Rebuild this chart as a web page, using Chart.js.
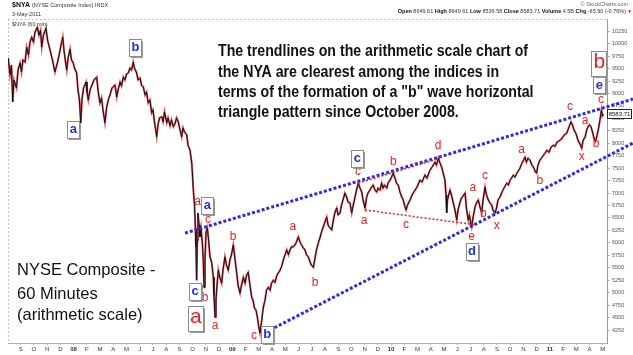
<!DOCTYPE html>
<html><head><meta charset="utf-8">
<script src="https://cdn.jsdelivr.net/npm/chart.js@4.4.1/dist/chart.umd.min.js"></script>
<style>html,body{margin:0;padding:0;background:#fff;}canvas{display:block;}</style>
</head><body>
<canvas id="c" width="633" height="355"></canvas>
<script>
// ---------- data ----------
const monthLabels = ['S','O','N','D','08','F','M','A','M','J','J','A','S','O','N','D','09','F','M','A','M','J','J','A','S','O','N','D','10','F','M','A','M','J','J','A','S','O','N','D','11','F','M','A','M'];
const yearLabels = ['08','09','10','11'];
const yTickValues = [4250,4500,4750,5000,5250,5500,5750,6000,6250,6500,6750,7000,7250,7500,7750,8000,8250,8500,8750,9000,9250,9500,9750,10000,10250];

// time in months since 1 Sep 2007, NYA value
const hourMonth = [
-0.94,-0.81,-0.70,-0.60,-0.51,-0.32,-0.20,-0.05,0.06,0.17,
0.33,0.45,0.59,0.70,0.83,0.97,1.08,1.26,1.38,1.50,
1.59,1.72,1.91,2.03,2.22,2.37,2.59,2.77,2.90,3.05,
3.18,3.27,3.39,3.48,3.58,3.73,3.84,3.95,4.07,4.23,
4.33,4.44,4.54,4.63,4.75,4.94,5.01,5.11,5.24,5.39,
5.54,5.75,5.84,5.99,6.11,6.22,6.37,6.49,6.62,6.75,
6.90,7.13,7.26,7.36,7.51,7.62,7.76,7.88,8.00,8.13,
8.26,8.38,8.51,8.60,8.77,8.87,9.02,9.13,9.27,9.40,
9.51,9.64,9.77,9.90,10.00,10.11,10.28,10.38,10.49,10.66,
10.76,10.87,11.04,11.14,11.29,11.40,11.54,11.66,11.78,11.91,
12.04,12.17,12.27,12.38,12.55,12.65,12.80,12.93,12.99,13.05,
13.14,13.21,13.25,13.30,13.35,13.40,13.48,13.55,13.63,13.74,
13.80,13.86,13.93,14.01,14.11,14.20,14.31,14.44,14.56,14.61,
14.69,14.76,14.84,14.94,15.07,15.19,15.29,15.44,15.56,15.69,
15.82,15.93,16.07,16.16,16.33,16.43,16.58,16.69,16.83,16.96,
17.07,17.20,17.33,17.46,17.56,17.67,17.79,17.90,18.01,18.09,
18.20,18.34,18.47,18.58,18.72,18.85,18.96,19.10,19.22,19.37,
19.60,19.75,19.90,20.11,20.24,20.36,20.47,20.61,20.73,20.85,
20.98,21.11,21.23,21.36,21.49,21.60,21.74,21.87,21.98,22.12,
22.25,22.36,22.50,22.62,22.74,22.87,23.00,23.13,23.23,23.38,
23.51,23.61,23.76,23.89,23.99,24.14,24.25,24.36,24.51,24.64,
24.74,24.89,25.02,25.14,25.27,25.42,25.52,25.65,25.78,25.88,
26.03,26.15,26.25,26.40,26.53,26.65,26.78,26.91,27.01,27.16,
27.29,27.39,27.50,27.67,27.77,27.92,28.03,28.16,28.29,28.41,
28.54,28.67,28.78,28.92,29.01,29.13,29.24,29.43,29.58,29.81,
29.96,30.18,30.33,30.56,30.71,30.94,31.09,31.32,31.43,31.57,
31.70,31.82,31.92,32.07,32.15,32.20,32.26,32.45,32.56,32.70,
32.83,32.96,33.06,33.21,33.32,33.43,33.59,33.71,33.83,33.92,
34.00,34.09,34.19,34.34,34.45,34.59,34.72,34.85,34.95,35.10,
35.21,35.35,35.48,35.60,35.70,35.85,35.97,36.08,36.23,36.38,
36.53,36.74,36.87,36.99,37.10,37.24,37.36,37.51,37.74,37.89,
38.01,38.12,38.23,38.35,38.50,38.65,38.80,38.91,39.00,39.10,
39.25,39.41,39.63,39.78,39.93,40.09,40.26,40.39,40.54,40.77,
40.92,41.07,41.27,41.37,41.48,41.60,41.71,41.82,41.98,42.13,
42.28,42.41,42.51,42.66,42.79,42.88,43.00,43.11,43.22,43.34,
43.45,43.56,43.66,43.79,43.90,43.98,44.04
];
const closeValue = [
9710,9370,9570,8830,9270,9110,9470,9610,9430,9670,
9630,9930,9770,10030,10130,10030,10230,10330,10170,10270,
9930,10170,10310,10070,9870,9710,9430,9610,9770,9970,
10130,9870,9630,9470,9710,9890,9670,9630,9510,9410,
9070,8870,8410,8870,9110,9230,9030,8870,9070,9170,
9270,9330,9070,8810,8910,8670,8410,8710,8870,8970,
9110,9170,8930,9070,9230,9150,9330,9270,9390,9410,
9510,9470,9630,9510,9410,9270,9310,9170,9130,8970,
9030,8810,8870,8610,8670,8430,8130,8370,8510,8530,
8430,8630,8410,8510,8350,8470,8330,8390,8510,8430,
8270,8130,8310,8230,8170,7960,7860,7600,7360,7060,
6760,6260,5920,5250,6060,6600,6360,6120,6300,5960,
5660,5110,5660,6220,6300,6060,5720,5600,5310,4950,
4510,4850,5150,5450,5290,5190,5450,5720,5550,5450,
5660,5760,5960,5760,5390,5150,4990,5150,5310,5190,
5350,5410,5150,4910,4850,4690,4650,4490,4290,4190,
4410,4710,4850,5050,5110,5050,5190,5250,5210,5350,
5450,5550,5700,5860,5760,5860,5920,5920,5960,6020,
6120,6020,5960,5900,5860,5760,5720,5620,5550,5510,
5700,5860,6000,6100,6220,6320,6420,6520,6360,6300,
6260,6420,6620,6700,6560,6600,6760,6860,7000,6920,
6820,6800,6600,6760,6920,7100,7200,7100,7020,6860,
6700,6920,7000,7060,7120,7160,7060,7020,7100,7060,
7200,7100,7160,7100,7200,7260,7320,7400,7300,7200,
7160,7020,6940,6860,6760,6660,6760,6860,6960,7060,
7120,7260,7220,7360,7300,7460,7520,7620,7560,7700,
7600,7520,7420,7260,6960,6600,6860,7060,6960,6800,
6660,6460,6660,6820,6900,6940,7000,6660,6460,6560,
6420,6320,6500,6720,6800,6860,6720,6600,6860,7120,
6960,6860,6800,6760,6660,6600,6700,6860,6920,7020,
7100,7200,7160,7260,7300,7360,7320,7400,7500,7600,
7660,7720,7620,7700,7660,7560,7500,7420,7400,7560,
7660,7720,7800,7860,7820,7920,7960,7940,8020,8060,
8100,8160,8200,8270,8350,8430,8370,8270,8190,8060,
7980,7900,8060,8120,8270,8330,8370,8330,8230,8100,
8040,8150,8270,8470,8670,8550,8583.71
];
const lastClose = 8583.71;

// trendlines (endpoints: month, value)
const upperTrendT = [12.42, 46.28], upperTrendV = [6197, 8888];
const lowerTrendT = [18.84, 46.28], lowerTrendV = [4250, 8005];
const redLowerT = [26.03, 34.45], redLowerV = [6660, 6360];
const redUpperT = [25.52, 31.70], redUpperV = [7200, 7700];

// wave labels: month, value, letter, kind (r = red letter, B = blue box, R = red box)
const waveT = [13.38,14.16,13.93,14.69,16.05,17.63,20.58,22.25,25.50,25.95,28.17,29.13,31.55,34.09,34.17,35.10,34.97,35.98,37.87,39.25,41.52,42.41,42.66,43.49,43.87,
               3.95,8.64,14.08,13.15,18.59,25.42,34.08,43.71, 13.20,43.71];
const waveV = [6820,6460,4890,4330,6120,4130,6320,5210,7420,6440,7630,6360,7960,6120,7100,7340,6580,6340,7880,7240,8730,7730,8450,8000,8870,
               8270,9930,6760,5030,4170,7700,5820,9170, 4480,9600];
const waveText = ['a','c','b','a','b','c','a','b','c','a','b','c','d','e','a','c','b','x','a','b','c','x','a','b','c',
                  'a','b','a','c','b','c','d','e', 'a','b'];
const waveKind = ['r','r','r','r','r','r','r','r','r','r','r','r','r','r','r','r','r','r','r','r','r','r','r','r','r',
                  'B','B','B','B','B','B','B','B', 'R','R'];

const noteLines = ['The trendlines on the arithmetic scale chart of','the NYA are clearest among the indices in','terms of the formation of a "b" wave horizontal','triangle pattern since October 2008.'];
const titleLines = ['NYSE Composite -','60 Minutes','(arithmetic scale)'];

// ---------- chart ----------
const pts = (ts, vs) => ts.map((t, i) => ({x: t, y: vs[i]}));
const priceData = pts(hourMonth, closeValue);
const FONT = '"Liberation Sans", Arial, sans-serif';

const annot = {
  id: 'annot',
  beforeDatasetsDraw(chart) {
    const {ctx, chartArea: a} = chart;
    ctx.save();
    ctx.strokeStyle = '#c9bcc9'; ctx.lineWidth = 1; ctx.setLineDash([2, 2]);
    ctx.beginPath(); ctx.moveTo(a.left, a.top + 0.5); ctx.lineTo(a.right, a.top + 0.5);
    ctx.moveTo(a.left + 0.5, a.top); ctx.lineTo(a.left + 0.5, a.bottom); ctx.stroke();
    ctx.restore();
  },
  afterDraw(chart) {
    const {ctx} = chart;
    const xs = chart.scales.x, ys = chart.scales.y;
    ctx.save();
    // wave labels
    ctx.textAlign = 'center'; ctx.textBaseline = 'middle';
    for (let i = 0; i < waveT.length; i++) {
      const px = xs.getPixelForValue(waveT[i]), py = ys.getPixelForValue(waveV[i]);
      const k = waveKind[i];
      if (k === 'r') {
        ctx.font = '12px ' + FONT; ctx.fillStyle = '#ec1c24';
        ctx.fillText(waveText[i], px, py);
      } else {
        const w = k === 'B' ? 12 : 15, h = k === 'B' ? 17 : 25;
        const x0 = Math.round(px - w / 2) + 0.5, y0 = Math.round(py - h / 2) + 0.5;
        ctx.fillStyle = '#9a9a9a'; ctx.fillRect(x0 + 1.5, y0 + 1.5, w, h);
        ctx.fillStyle = '#fff'; ctx.fillRect(x0, y0, w, h);
        ctx.strokeStyle = '#8c8c8c'; ctx.lineWidth = 1; ctx.strokeRect(x0, y0, w, h);
        if (k === 'B') { ctx.font = 'bold 13px ' + FONT; ctx.fillStyle = '#1f2fe8'; }
        else { ctx.font = '21px ' + FONT; ctx.fillStyle = '#ec1c24'; }
        ctx.fillText(waveText[i], px + 0.5, py + (k === 'B' ? 0 : -1));
      }
    }
    // last value box on the axis
    const ly = ys.getPixelForValue(lastClose);
    ctx.fillStyle = '#fff'; ctx.fillRect(607.5, Math.round(ly) - 4.5, 24, 9);
    ctx.strokeStyle = '#222'; ctx.lineWidth = 1; ctx.strokeRect(607.5, Math.round(ly) - 4.5, 24, 9);
    ctx.fillStyle = '#111'; ctx.font = '6px ' + FONT; ctx.textAlign = 'center';
    ctx.fillText(lastClose.toFixed(2), 619.5, Math.round(ly));

    // note text block (narrow bold)
    ctx.textAlign = 'left'; ctx.textBaseline = 'alphabetic';
    ctx.font = 'bold 17px "Liberation Sans Narrow", "Arial Narrow", ' + FONT;
    const w0 = ctx.measureText(noteLines[0]).width;
    const sx = 310 / w0;
    ctx.fillStyle = '#111';
    ctx.save(); ctx.translate(218, 0); ctx.scale(sx, 1);
    const nb = [56, 76.5, 97, 117];
    noteLines.forEach((l, i) => ctx.fillText(l, 0, nb[i]));
    ctx.restore();

    // chart title bottom-left
    ctx.font = '16.5px ' + FONT; ctx.fillStyle = '#111';
    const tb = [275, 299, 320];
    titleLines.forEach((l, i) => ctx.fillText(l, 17, tb[i]));

    // header
    ctx.textBaseline = 'middle';
    ctx.font = 'bold 7px ' + FONT; ctx.fillStyle = '#111';
    ctx.fillText('$NYA', 12, 5);
    const wN = ctx.measureText('$NYA ').width;
    ctx.font = '5.5px ' + FONT; ctx.fillStyle = '#333';
    ctx.fillText('(NYSE Composite Index) INDX', 12 + wN, 5);
    ctx.fillText('3-May-2011', 12, 14);
    ctx.fillText('$NYA (60 min)', 12, 24);
    ctx.textAlign = 'right'; ctx.fillStyle = '#666';
    ctx.fillText('\u00A9 StockCharts.com', 628, 4);
    const parts = [['Open ', true], ['8649.61 ', false], ['High ', true], ['8649.61 ', false], ['Low ', true], ['8539.58 ', false], ['Close ', true], ['8583.71 ', false], ['Volume ', true], ['4.5B ', false], ['Chg ', true], ['-65.90 (-0.76%)', false]];
    let xr = 626;
    for (let i = parts.length - 1; i >= 0; i--) {
      ctx.font = (parts[i][1] ? 'bold ' : '') + '5.5px ' + FONT;
      ctx.fillStyle = parts[i][1] ? '#111' : '#333';
      ctx.fillText(parts[i][0], xr, 11.5);
      xr -= ctx.measureText(parts[i][0]).width;
    }
    ctx.fillStyle = '#e0101a'; ctx.textAlign = 'left'; ctx.font = '5px ' + FONT;
    ctx.fillText('\u25BC', 627, 11.5);
    ctx.restore();
  }
};

new Chart(document.getElementById('c'), {
  type: 'line',
  data: {
    datasets: [
      {data: pts(upperTrendT, upperTrendV), borderColor: '#2a2ee0', borderWidth: 3, borderDash: [3, 2], pointRadius: 0, clip: false, order: 1},
      {data: pts(lowerTrendT, lowerTrendV), borderColor: '#2a2ee0', borderWidth: 3, borderDash: [3, 2], pointRadius: 0, clip: false, order: 1},
      {data: pts(redUpperT, redUpperV), borderColor: '#ec1c24', borderWidth: 1.5, borderDash: [2, 2], pointRadius: 0, order: 0},
      {data: pts(redLowerT, redLowerV), borderColor: '#ec1c24', borderWidth: 1.5, borderDash: [2, 2], pointRadius: 0, order: 0},
      {data: priceData, borderColor: 'rgba(225,40,50,0.8)', borderWidth: 2, pointRadius: 0, tension: 0, order: 3},
      {data: priceData, borderColor: '#111', borderWidth: 1, pointRadius: 0, tension: 0, order: 2}
    ]
  },
  options: {
    responsive: false, animation: false, devicePixelRatio: 1,
    layout: {padding: {left: 8, top: 19, right: 0, bottom: 0}},
    plugins: {legend: {display: false}, tooltip: {enabled: false}},
    scales: {
      x: {
        type: 'linear', min: -0.96, max: 44.32,
        afterBuildTicks: s => { s.ticks = monthLabels.map((_, i) => ({value: i})); },
        afterFit: s => { s.height = 12; },
        ticks: {
          autoSkip: false, maxRotation: 0, padding: 1, color: '#333',
          font: c => ({family: FONT, size: 6, weight: (c.tick && yearLabels.includes(monthLabels[Math.round(c.tick.value)])) ? 'bold' : 'normal'}),
          callback: v => monthLabels[Math.round(v)]
        },
        grid: {drawOnChartArea: false, drawTicks: true, tickLength: 2, color: '#c4a8c8'},
        border: {color: '#b8a8c0', dash: [2, 1]}
      },
      y: {
        type: 'linear', position: 'right', min: 3990, max: 10495,
        afterBuildTicks: s => { s.ticks = yTickValues.map(v => ({value: v})); },
        afterFit: s => { s.width = 26; },
        ticks: {padding: 2, color: '#555', font: {family: FONT, size: 5.5}, callback: v => String(v)},
        grid: {drawOnChartArea: false, tickLength: 3, color: '#c8a8c8'},
        border: {color: '#999'}
      }
    }
  },
  plugins: [annot]
});
</script>
</body></html>
